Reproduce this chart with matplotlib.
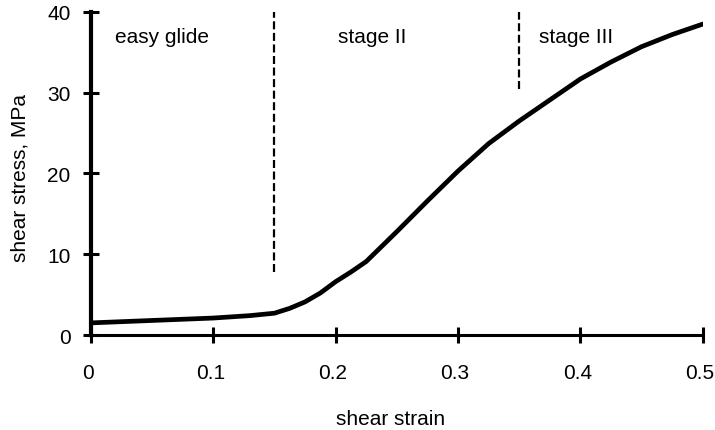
import numpy as np
import matplotlib.pyplot as plt
import matplotlib.transforms as mtransforms

plt.rcParams['font.family'] = ['Liberation Sans', 'DejaVu Sans']

strain = [0, 0.05, 0.1, 0.13, 0.15, 0.1625, 0.175, 0.1875, 0.2, 0.2125, 0.225, 0.25,
          0.275, 0.3, 0.325, 0.35, 0.375, 0.4, 0.425, 0.45, 0.475, 0.5]
stress = [1.5, 1.8, 2.1, 2.4, 2.7, 3.3, 4.1, 5.2, 6.6, 7.8, 9.1, 12.8,
          16.6, 20.3, 23.7, 26.5, 29.1, 31.7, 33.8, 35.7, 37.2, 38.5]

stage_x = [0.15, 0.35]
stage_bottom = [7.8, 30.5]
stage_labels = ['easy glide', 'stage II', 'stage III']
label_x = [0.0196, 0.2018, 0.366]

fig = plt.figure(figsize=(7.15, 4.31), dpi=100)
ax = fig.add_axes([0.127, 0.2204, 0.856, 0.7496])

ax.plot(strain, stress, color='black', lw=3.4, solid_capstyle='round', solid_joinstyle='round')
for x0, yb in zip(stage_x, stage_bottom):
    ax.plot([x0, x0], [yb, 40], color='black', lw=1.6, ls=(0, (3.6, 1.6)))
for t, xl in zip(stage_labels, label_x):
    ax.text(xl, 36.3, t, fontsize=15, va='baseline', ha='left')

ax.set_xlim(0, 0.5)
ax.set_ylim(0, 40)
ax.set_xticks([0, 0.1, 0.2, 0.3, 0.4, 0.5])
ax.set_xticklabels(['0', '0.1', '0.2', '0.3', '0.4', '0.5'])
ax.set_yticks([0, 10, 20, 30, 40])
for s in ['top', 'right']:
    ax.spines[s].set_visible(False)
ax.spines['left'].set_linewidth(3.0)
ax.spines['bottom'].set_linewidth(2.2)
ax.tick_params(axis='x', direction='inout', length=11, width=2.2, labelsize=15, pad=15)
ax.tick_params(axis='y', direction='inout', length=11, width=2.2, labelsize=15, pad=9)
ax.set_ylabel('shear stress, MPa', fontsize=15)
ax.yaxis.set_label_coords(-0.1, 0.49)
ax.set_xlabel('shear strain', fontsize=15)
ax.xaxis.set_label_coords(0.49, -0.228)

# tick labels sit a little left of their ticks in the original
shift = mtransforms.ScaledTranslation(-3 / 100, 0, fig.dpi_scale_trans)
for lbl in ax.get_xticklabels():
    lbl.set_transform(lbl.get_transform() + shift)

fig.savefig('out.png', dpi=100)
